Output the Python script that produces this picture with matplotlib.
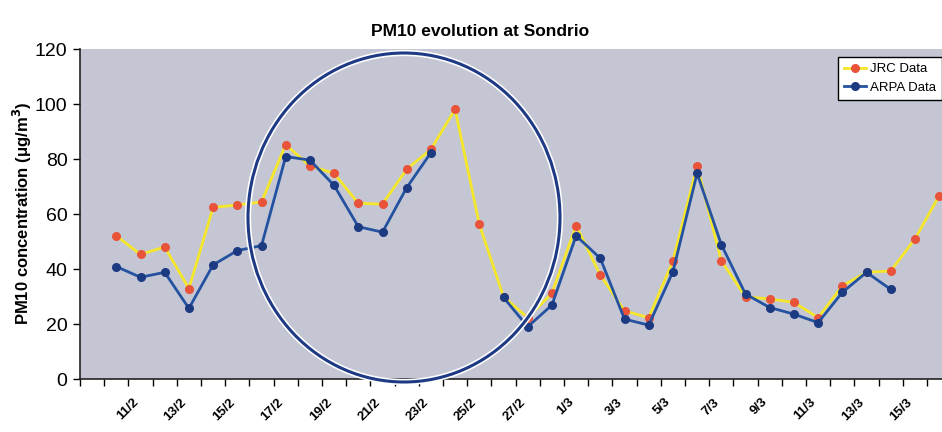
import numpy as np
import matplotlib
matplotlib.use("Agg")
import matplotlib.pyplot as plt
from matplotlib.patches import Ellipse

# ---- data ----
dates = ["9/2", "10/2", "11/2", "12/2", "13/2", "14/2", "15/2", "16/2", "17/2", "18/2",
         "19/2", "20/2", "21/2", "22/2", "23/2", "24/2", "25/2", "26/2", "27/2", "28/2",
         "1/3", "2/3", "3/3", "4/3", "5/3", "6/3", "7/3", "8/3", "9/3", "10/3",
         "11/3", "12/3", "13/3", "14/3", "15/3", "16/3", "17/3"]
nan = np.nan
jrc = [nan, 52.2, 45.4, 48.1, 33.0, 62.5, 63.4, 64.5, 85.3, 77.6,
       74.9, 64.0, 63.7, 76.4, 83.6, 98.2, 56.4, 30.0, 22.4, 31.3,
       55.9, 37.9, 24.9, 22.4, 43.1, 77.6, 43.1, 30.0, 29.2, 28.0,
       22.4, 34.0, 38.9, 39.4, 51.0, 66.7, nan]
arpa = [nan, 41.0, 37.1, 38.9, 25.8, 41.6, 46.8, 48.6, 81.0, 79.7,
        70.5, 55.5, 53.5, 69.7, 82.4, nan, nan, 29.8, 19.1, 27.0,
        52.2, 44.0, 21.9, 19.7, 39.1, 74.9, 49.0, 31.0, 26.1, 23.7,
        20.6, 31.6, 38.9, 32.7, nan, nan, nan]
yticks = [0, 20, 40, 60, 80, 100, 120]

W, H = 942, 432
fig = plt.figure(figsize=(W / 100, H / 100), dpi=100)
fig.patch.set_facecolor("white")

left, right = 80, 80 + 37 * 24.2
top, bottom = 49.3, 379.3
ax = fig.add_axes([left / W, 1 - bottom / H, (right - left) / W, (bottom - top) / H])
ax.set_facecolor("#c4c6d4")

x = np.arange(len(dates))
ax.plot(x, jrc, color="#f4e62a", lw=2.0, marker="o", ms=5.5,
        mfc="#e8533a", mec="#e8533a", label="JRC Data", zorder=3)
ax.plot(x, arpa, color="#2452a0", lw=2.0, marker="o", ms=5.5,
        mfc="#1c3a82", mec="#1c3a82", label="ARPA Data", zorder=4)

ax.set_xlim(-0.5, len(dates) - 0.5)
ax.set_ylim(0, 120)
ax.set_yticks(yticks)
ax.set_yticklabels([str(v) for v in yticks], fontsize=14, family="Liberation Sans")

# label anchors sit slightly left of the category centre (Excel-style rotated labels)
lab_idx = list(range(2, 35, 2))
ax.set_xticks([i - 0.35 for i in lab_idx])
ax.set_xticklabels([dates[i] for i in lab_idx], rotation=45, ha="right",
                   rotation_mode="anchor", fontsize=9.5, family="Liberation Sans",
                   fontweight="bold")
ax.set_xticks(np.arange(-0.5, len(dates), 1), minor=True)
ax.tick_params(axis="x", which="major", length=0, pad=12)
ax.tick_params(axis="x", which="minor", length=5, direction="out", width=1)
ax.tick_params(axis="y", length=5, direction="out", width=1, pad=4)

for s in ["top", "right"]:
    ax.spines[s].set_visible(False)
for s in ["left", "bottom"]:
    ax.spines[s].set_color("#222222")
    ax.spines[s].set_linewidth(1.2)

fig.text(480 / W, 1 - 32 / H, "PM10 evolution at Sondrio", ha="center", va="center",
         fontsize=12.5, fontweight="bold", family="Liberation Sans")
fig.text(22 / W, 1 - 213 / H, "PM10 concentration (\u03bcg/m$^\\mathbf{3}$)", rotation=90,
         ha="center", va="center", fontsize=12, fontweight="bold", family="Liberation Sans")

leg = fig.legend(loc="upper left", bbox_to_anchor=(838 / W, 1 - 57 / H),
                 frameon=True, fancybox=False, edgecolor="black",
                 framealpha=1, handlelength=1.7, borderpad=0.45, labelspacing=0.5,
                 handletextpad=0.3, borderaxespad=0,
                 prop={"family": "Liberation Sans", "size": 9.5})
leg.get_frame().set_linewidth(1.0)

cx, cy, ew, eh = 404, 217.5, 312, 329
ell_w = Ellipse((cx / W, 1 - cy / H), ew / W, eh / H, transform=fig.transFigure,
                fill=False, edgecolor="white", lw=4.5, zorder=10)
ell = Ellipse((cx / W, 1 - cy / H), ew / W, eh / H, transform=fig.transFigure,
              fill=False, edgecolor="#1f3a85", lw=2.2, zorder=11)
fig.add_artist(ell_w)
fig.add_artist(ell)

fig.savefig("out.png", dpi=100)
